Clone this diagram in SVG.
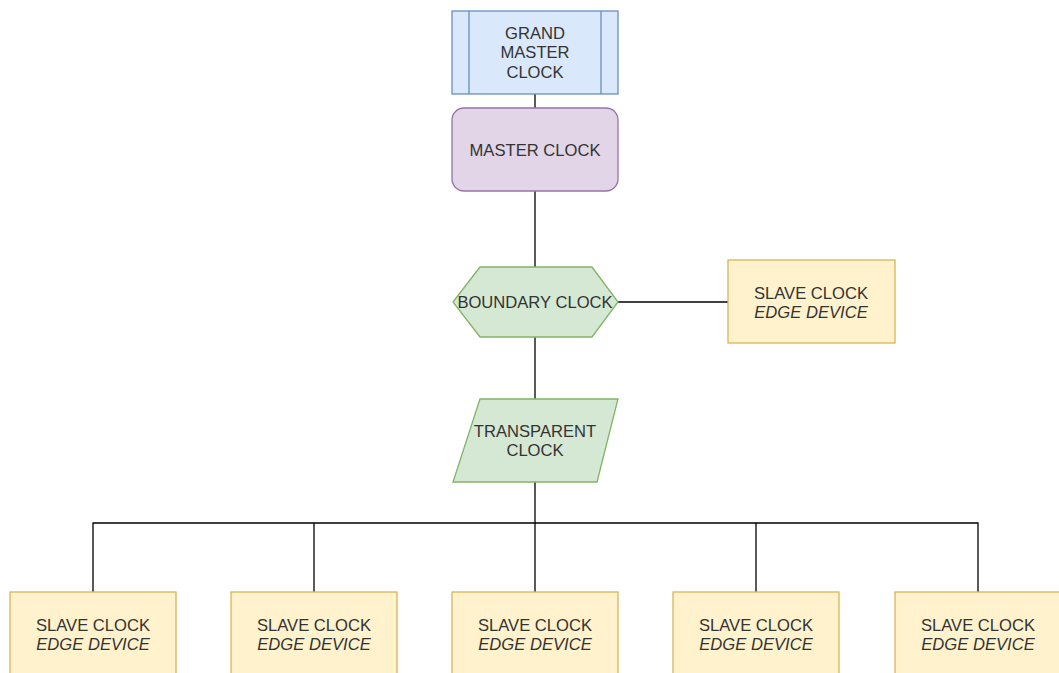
<svg xmlns="http://www.w3.org/2000/svg" width="1059" height="673" viewBox="0 0 1059 673">
  <style>
    text { font-family: "Liberation Sans", Arial, sans-serif; font-size: 16.6px; fill: #333333; text-anchor: middle; }
    .it { font-style: italic; }
    .blue { fill: #dae8fc; stroke: #6c8ebf; stroke-width: 1.3; }
    .purple { fill: #e1d5e7; stroke: #9673a6; stroke-width: 1.3; }
    .green { fill: #d5e8d4; stroke: #82b366; stroke-width: 1.3; }
    .yellow { fill: #fff2cc; stroke: #d6b656; stroke-width: 1.3; }
    .wire { fill: none; stroke: #000000; stroke-width: 1.3; }
  </style>
  <rect width="1059" height="673" fill="#ffffff"/>

  <!-- connectors -->
  <g id="connectors">
    <path class="wire" d="M535 94 V108"/>
    <path class="wire" d="M535 191 V267"/>
    <path class="wire" d="M535 337 V399"/>
    <path class="wire" d="M618 302 H728"/>
    <path class="wire" d="M535 482 V592"/>
    <path class="wire" d="M93 592 V523 H978 V592"/>
    <path class="wire" d="M314 523 V592"/>
    <path class="wire" d="M756 523 V592"/>
  </g>

  <g id="grand-master">
    <rect class="blue" x="452" y="11" width="166" height="83"/>
    <path class="blue" d="M469 11 V94 M601 11 V94"/>
    <text x="535" y="39">GRAND</text>
    <text x="535" y="58">MASTER</text>
    <text x="535" y="78">CLOCK</text>
  </g>

  <g id="master-clock">
    <rect class="purple" x="452" y="108" width="166" height="83" rx="12" ry="12"/>
    <text x="535" y="156">MASTER CLOCK</text>
  </g>

  <g id="boundary-clock">
    <polygon class="green" points="453,302 480,267 592,267 618,302 592,337 480,337"/>
    <text x="535" y="308">BOUNDARY CLOCK</text>
  </g>

  <g id="slave-right">
    <rect class="yellow" x="728" y="260" width="167" height="83"/>
    <text x="811" y="299">SLAVE CLOCK</text>
    <text class="it" x="811" y="318">EDGE DEVICE</text>
  </g>

  <g id="transparent-clock">
    <polygon class="green" points="480,399 618,399 597,482 453,482"/>
    <text x="535" y="437">TRANSPARENT</text>
    <text x="535" y="456">CLOCK</text>
  </g>

  <g id="slave-1">
    <rect class="yellow" x="10" y="592" width="166" height="83"/>
    <text x="93" y="631">SLAVE CLOCK</text>
    <text class="it" x="93" y="650">EDGE DEVICE</text>
  </g>

  <g id="slave-2">
    <rect class="yellow" x="231" y="592" width="166" height="83"/>
    <text x="314" y="631">SLAVE CLOCK</text>
    <text class="it" x="314" y="650">EDGE DEVICE</text>
  </g>

  <g id="slave-3">
    <rect class="yellow" x="452" y="592" width="166" height="83"/>
    <text x="535" y="631">SLAVE CLOCK</text>
    <text class="it" x="535" y="650">EDGE DEVICE</text>
  </g>

  <g id="slave-4">
    <rect class="yellow" x="673" y="592" width="166" height="83"/>
    <text x="756" y="631">SLAVE CLOCK</text>
    <text class="it" x="756" y="650">EDGE DEVICE</text>
  </g>

  <g id="slave-5">
    <rect class="yellow" x="895" y="592" width="166" height="83"/>
    <text x="978" y="631">SLAVE CLOCK</text>
    <text class="it" x="978" y="650">EDGE DEVICE</text>
  </g>
</svg>
